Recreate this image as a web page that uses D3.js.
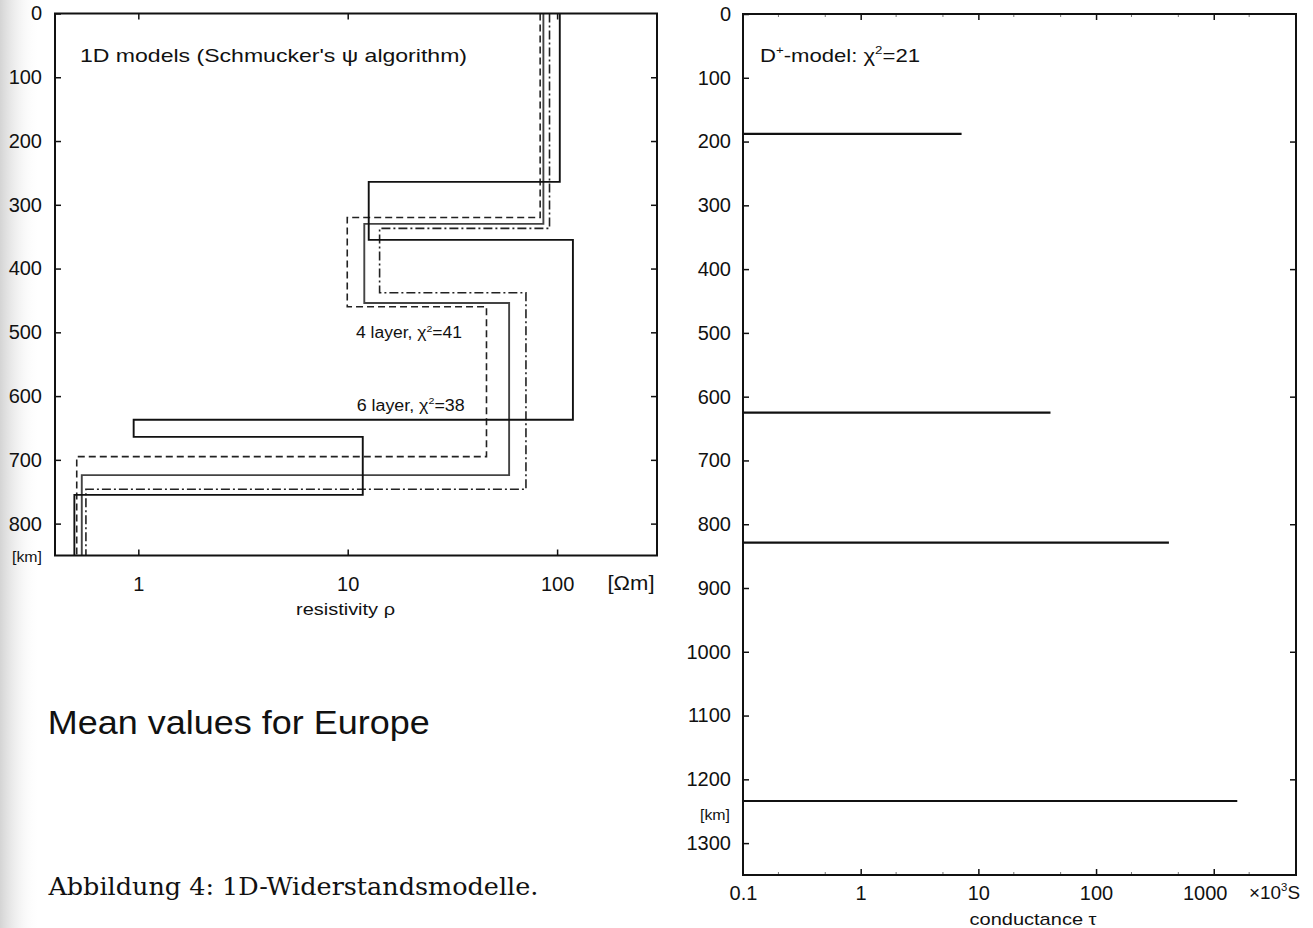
<!DOCTYPE html>
<html>
<head>
<meta charset="utf-8">
<script src="https://cdn.jsdelivr.net/npm/d3@7"></script>
<style>
  html, body { margin: 0; padding: 0; background: #fff; }
  svg { display: block; }
  text { font-family: "Liberation Sans", Arial, Helvetica, sans-serif; fill: #111; }
</style>
</head>
<body>
<svg id="fig" width="1313" height="928"></svg>
<script>
// ---- tick values ----
const depthTicksLeft = [0, 100, 200, 300, 400, 500, 600, 700, 800];
const resistivityTicks = [1, 10, 100];
const depthTicksRight = [0, 100, 200, 300, 400, 500, 600, 700, 800, 900, 1000, 1100, 1200, 1300];
const depthTicksRightFrame = [200, 400, 600, 800, 1000, 1200];
const conductanceTicks = [0.1, 1, 10, 100, 1000];

// ---- 1D resistivity models: layer resistivities [Ωm] and layer-bottom depths [km] ----
const sixLayerRho   = [103, 12.6, 119, 0.95, 11.8, 0.495];
const sixLayerDepth = [264, 355, 637, 664, 755];

const fourLayerRho   = [86, 12.0, 59, 0.537];
const fourLayerDepth = [330, 454, 724];

const fourLayerLowRho   = [83, 9.95, 46, 0.508];
const fourLayerLowDepth = [320, 460, 695];

const fourLayerHighRho   = [92, 14.2, 71, 0.562];
const fourLayerHighDepth = [337, 438, 746];

// ---- D+ model: thin conducting sheets, depth [km] and conductance [10^3 S] ----
const dPlusDepth = [188, 625, 829, 1234];
const dPlusTau   = [7.2, 41, 416, 1585];

const svg = d3.select("#fig");

// soft shadow along the left page edge
const defs = svg.append("defs");
const grad = defs.append("linearGradient").attr("id", "edge").attr("x1", 0).attr("x2", 1).attr("y1", 0).attr("y2", 0);
grad.append("stop").attr("offset", 0).attr("stop-color", "#d4d4d4");
grad.append("stop").attr("offset", 1).attr("stop-color", "#ffffff").attr("stop-opacity", 0);
svg.append("rect").attr("x", 0).attr("y", 0).attr("width", 40).attr("height", 928).attr("fill", "url(#edge)");

// ================= left panel: resistivity =================
const L = { x0: 55, x1: 657, y0: 13.5, y1: 555.5 };
const xRes = d3.scaleLog().domain([0.4, 300]).range([L.x0, L.x1]);
const yDepL = d3.scaleLinear().domain([0, 850]).range([L.y0, L.y1]);

defs.append("clipPath").attr("id", "clipL").append("rect")
  .attr("x", L.x0).attr("y", L.y0).attr("width", L.x1 - L.x0).attr("height", L.y1 - L.y0);

function styleAxis(g) {
  g.select(".domain").remove();
  g.selectAll(".tick line").attr("stroke", "#111").attr("stroke-width", 1.5);
  g.selectAll(".tick text").style("font-size", "20px").attr("fill", "#111");
}

svg.append("g").attr("transform", `translate(${L.x0},0)`)
  .call(d3.axisLeft(yDepL).tickValues(depthTicksLeft).tickSizeInner(-6).tickSizeOuter(0).tickPadding(13).tickFormat(d3.format("d")))
  .call(styleAxis);
svg.append("g").attr("transform", `translate(${L.x1},0)`)
  .call(d3.axisRight(yDepL).tickValues(depthTicksLeft.slice(1)).tickSizeInner(-6).tickSizeOuter(0).tickFormat(""))
  .call(styleAxis);
svg.append("g").attr("transform", `translate(0,${L.y0})`)
  .call(d3.axisTop(xRes).tickValues(resistivityTicks).tickSizeInner(-6).tickSizeOuter(0).tickFormat(""))
  .call(styleAxis);
svg.append("g").attr("transform", `translate(0,${L.y1})`)
  .call(d3.axisBottom(xRes).tickValues(resistivityTicks).tickSizeInner(-6).tickSizeOuter(0).tickPadding(21.5).tickFormat(d3.format("d")))
  .call(styleAxis);

// step profile through the layers
function stepPoints(rho, depth, maxDepth) {
  const pts = [];
  let top = 0;
  rho.forEach((r, i) => {
    const bottom = i < depth.length ? depth[i] : maxDepth;
    pts.push([r, top], [r, bottom]);
    top = bottom;
  });
  return pts;
}
const lineL = d3.line().x(d => xRes(d[0])).y(d => yDepL(d[1]));
const models = [
  { rho: fourLayerLowRho,  depth: fourLayerLowDepth,  stroke: "#222", width: 1.6, dash: "7,4" },
  { rho: fourLayerHighRho, depth: fourLayerHighDepth, stroke: "#222", width: 1.6, dash: "9,3,2,3" },
  { rho: fourLayerRho,     depth: fourLayerDepth,     stroke: "#444", width: 1.9, dash: null },
  { rho: sixLayerRho,      depth: sixLayerDepth,      stroke: "#111", width: 1.9, dash: null }
];
const gL = svg.append("g").attr("clip-path", "url(#clipL)");
models.forEach(m => {
  gL.append("path")
    .attr("d", lineL(stepPoints(m.rho, m.depth, 850)))
    .attr("fill", "none")
    .attr("stroke", m.stroke)
    .attr("stroke-width", m.width)
    .attr("stroke-dasharray", m.dash);
});

svg.append("rect").attr("x", L.x0).attr("y", L.y0).attr("width", L.x1 - L.x0).attr("height", L.y1 - L.y0)
  .attr("fill", "none").attr("stroke", "#111").attr("stroke-width", 2);

// plain text label, optionally fitted to a given width
function label(x, y, str, size, len, anchor) {
  const t = svg.append("text").attr("x", x).attr("y", y).style("font-size", size + "px")
    .attr("text-anchor", anchor || "start").text(str);
  if (len) t.attr("textLength", len).attr("lengthAdjust", "spacingAndGlyphs");
  return t;
}
// label built from pieces; {sup: "..."} pieces are raised superscripts
function supLabel(x, y, pieces, size, len) {
  const t = svg.append("text").attr("x", x).attr("y", y).style("font-size", size + "px");
  if (len) t.attr("textLength", len).attr("lengthAdjust", "spacingAndGlyphs");
  let raised = false;
  pieces.forEach(p => {
    if (typeof p === "string") {
      const s = t.append("tspan").text(p);
      if (raised) { s.attr("dy", size * 0.42); raised = false; }
    } else {
      t.append("tspan").attr("dy", -size * 0.42).style("font-size", (size * 0.6) + "px").text(p.sup);
      raised = true;
    }
  });
  return t;
}

label(80, 61.7, "1D models (Schmucker's \u03C8 algorithm)", 19, 387);
supLabel(356, 338.3, ["4 layer, \u03C7", { sup: "2" }, "=41"], 16, 106);
supLabel(356.7, 410.7, ["6 layer, \u03C7", { sup: "2" }, "=38"], 16, 108);
label(27, 562, "[km]", 15, 30, "middle");
label(631, 590, "[\u03A9m]", 20, 47, "middle");
label(345.5, 615, "resistivity \u03C1", 17, 99, "middle");

label(47.7, 734, "Mean values for Europe", 33, 382);
label(48.4, 895, "Abbildung 4: 1D-Widerstandsmodelle.", 25, 490)
  .style("font-family", "'DejaVu Serif', 'Liberation Serif', serif");

// ================= right panel: conductance =================
const R = { x0: 743, x1: 1296, y0: 14, y1: 875 };
const xCond = d3.scaleLog().domain([0.1, 5000]).range([R.x0, R.x1]);
const yDepR = d3.scaleLinear().domain([0, 1350]).range([R.y0, R.y1]);

svg.append("g").attr("transform", `translate(${R.x0},0)`)
  .call(d3.axisLeft(yDepR).tickValues(depthTicksRight).tickSizeInner(-6).tickSizeOuter(0).tickPadding(12).tickFormat(d3.format("d")))
  .call(styleAxis);
svg.append("g").attr("transform", `translate(${R.x1},0)`)
  .call(d3.axisRight(yDepR).tickValues(depthTicksRightFrame).tickSizeInner(-6).tickSizeOuter(0).tickFormat(""))
  .call(styleAxis);

// faint minor ticks at 2 and 5 of each decade
const minorCond = [];
[0.1, 1, 10, 100, 1000].forEach(b => { minorCond.push(b * 2, b * 5); });
[R.y0, R.y1].forEach((yy, k) => {
  svg.append("g").selectAll("line").data(minorCond.filter(v => v < 5000)).join("line")
    .attr("x1", d => xCond(d)).attr("x2", d => xCond(d))
    .attr("y1", yy).attr("y2", yy + (k === 0 ? 3 : -3))
    .attr("stroke", "#777").attr("stroke-width", 1);
});

svg.append("g").attr("transform", `translate(0,${R.y0})`)
  .call(d3.axisTop(xCond).tickValues(conductanceTicks.slice(1)).tickSizeInner(-6).tickSizeOuter(0).tickFormat(""))
  .call(styleAxis);
const bottomR = svg.append("g").attr("transform", `translate(0,${R.y1})`)
  .call(d3.axisBottom(xCond).tickValues(conductanceTicks).tickSizeInner(-6).tickSizeOuter(0).tickPadding(11)
    .tickFormat(d => d < 1 ? "0.1" : d3.format("d")(d)))
  .call(styleAxis);
bottomR.selectAll(".tick").filter(d => d === 0.1).select("line").remove();
bottomR.selectAll(".tick text").filter(d => d === 1000).attr("dx", -9);

svg.append("g").selectAll("line").data(dPlusDepth).join("line")
  .attr("x1", xCond(0.1)).attr("x2", (d, i) => xCond(dPlusTau[i]))
  .attr("y1", d => yDepR(d)).attr("y2", d => yDepR(d))
  .attr("stroke", "#111").attr("stroke-width", 2.2);

svg.append("rect").attr("x", R.x0).attr("y", R.y0).attr("width", R.x1 - R.x0).attr("height", R.y1 - R.y0)
  .attr("fill", "none").attr("stroke", "#111").attr("stroke-width", 2);

supLabel(760, 61.7, ["D", { sup: "+" }, "-model: \u03C7", { sup: "2" }, "=21"], 19, 160);
label(715, 820, "[km]", 14, 30, "middle");
label(1033, 925, "conductance \u03C4", 17, 127, "middle");
supLabel(1249, 899, ["\u00D710", { sup: "3" }, "S"], 19, 51);
</script>
</body>
</html>
